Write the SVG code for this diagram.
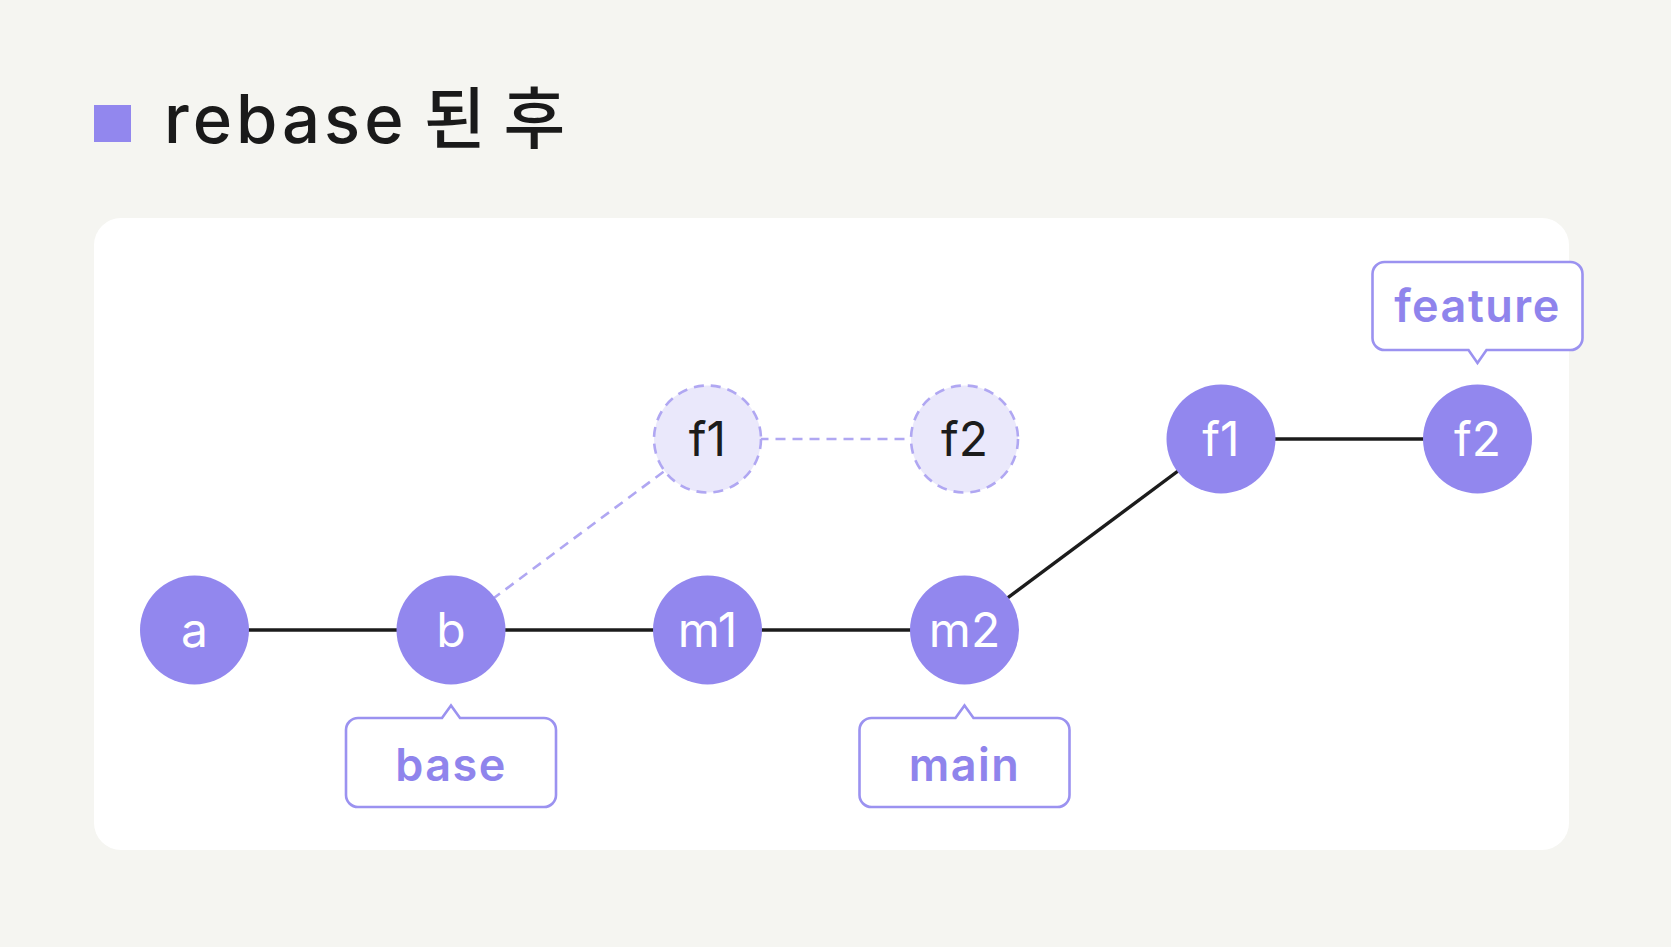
<svg xmlns="http://www.w3.org/2000/svg" width="1671" height="947" viewBox="0 0 1671 947">
<style>
.bg{fill:#F5F5F1}
.card{fill:#FFFFFF}
.node{fill:#9287EE}
.ghost{fill:#EAE8FB;stroke:#B0A7F2;stroke-width:2.6;stroke-dasharray:10 7}
.edge{stroke:#1C1C1C;stroke-width:3.4;fill:none}
.gedge{stroke:#B0A7F2;stroke-width:2.6;stroke-dasharray:10 7;fill:none}
.nt{font-family:Inter,"Noto Sans","Noto Sans CJK KR",sans-serif;font-size:48px;fill:#FFFFFF;text-anchor:middle}
.gt{font-family:Inter,"Noto Sans","Noto Sans CJK KR",sans-serif;font-size:48px;fill:#1C1C1C;text-anchor:middle}
.lbl{fill:#FFFFFF;stroke:#9B92F0;stroke-width:2.6}
.lt{font-family:Inter,"Noto Sans","Noto Sans CJK KR",sans-serif;font-size:45px;font-weight:600;letter-spacing:1.5px;fill:#8F84EC;text-anchor:middle}
.title{font-family:Inter,"Noto Sans CJK KR",sans-serif;font-size:67px;font-weight:500;fill:#1A1A1A}
</style>
<defs>
<path id="tagUp" d="M -93 0 H -9 L 0 -12.5 L 9 0 H 93 A 12 12 0 0 1 105 12 V 77 A 12 12 0 0 1 93 89 H -93 A 12 12 0 0 1 -105 77 V 12 A 12 12 0 0 1 -93 0 Z"/>
<path id="tagDown" d="M -93 0 H 93 A 12 12 0 0 1 105 12 V 76 A 12 12 0 0 1 93 88 H 9 L 0 101 L -9 88 H -93 A 12 12 0 0 1 -105 76 V 12 A 12 12 0 0 1 -93 0 Z"/>
</defs>
<rect class="bg" x="0" y="0" width="1671" height="947"/>
<g id="title">
<rect x="94" y="105" width="37" height="37" fill="#9287EE"/>
<text class="title" x="164" y="143"><tspan letter-spacing="4">rebase</tspan><tspan x="424">된 후</tspan></text>
</g>
<rect class="card" x="94" y="218" width="1475" height="632" rx="27" ry="27"/>
<g id="connectors">
<line class="edge" x1="194.5" y1="630" x2="451" y2="630"/>
<line class="edge" x1="451" y1="630" x2="707.5" y2="630"/>
<line class="edge" x1="707.5" y1="630" x2="964.5" y2="630"/>
<line class="edge" x1="964.5" y1="630" x2="1221" y2="439"/>
<line class="edge" x1="1221" y1="439" x2="1477.5" y2="439"/>
<line class="gedge" x1="451" y1="630" x2="707.5" y2="439"/>
<line class="gedge" x1="707.5" y1="439" x2="964.5" y2="439"/>
</g>
<g id="node-a"><circle class="node" cx="194.5" cy="630" r="54.5"/><text class="nt" x="194.5" y="647">a</text></g>
<g id="node-b"><circle class="node" cx="451" cy="630" r="54.5"/><text class="nt" x="451" y="647">b</text></g>
<g id="node-m1"><circle class="node" cx="707.5" cy="630" r="54.5"/><text class="nt" x="707.5" y="647">m1</text></g>
<g id="node-m2"><circle class="node" cx="964.5" cy="630" r="54.5"/><text class="nt" x="964.5" y="647">m2</text></g>
<g id="node-f1-old"><circle class="ghost" cx="707.5" cy="439" r="53.5"/><text class="gt" x="707.5" y="456">f1</text></g>
<g id="node-f2-old"><circle class="ghost" cx="964.5" cy="439" r="53.5"/><text class="gt" x="964.5" y="456">f2</text></g>
<g id="node-f1"><circle class="node" cx="1221" cy="439" r="54.5"/><text class="nt" x="1221" y="456">f1</text></g>
<g id="node-f2"><circle class="node" cx="1477.5" cy="439" r="54.5"/><text class="nt" x="1477.5" y="456">f2</text></g>
<g id="label-base"><use href="#tagUp" class="lbl" transform="translate(451,718)"/><text class="lt" x="451" y="781">base</text></g>
<g id="label-main"><use href="#tagUp" class="lbl" transform="translate(964.5,718)"/><text class="lt" x="964.5" y="781">main</text></g>
<g id="label-feature"><use href="#tagDown" class="lbl" transform="translate(1477.5,262)"/><text class="lt" x="1477.5" y="322">feature</text></g>
</svg>
